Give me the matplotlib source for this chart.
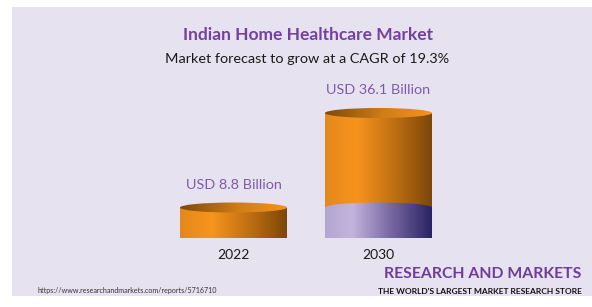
import numpy as np
import matplotlib.pyplot as plt
from matplotlib.colors import LinearSegmentedColormap
from matplotlib.patches import Ellipse, PathPatch, Rectangle
from matplotlib.path import Path

plt.rcParams['font.family'] = ['Lato', 'DejaVu Sans']

years = ["2022", "2030"]
values = [8.8, 36.1]  # USD billion
value_labels = ["USD 8.8 Billion", "USD 36.1 Billion"]
band_values = [0, 8.8]  # purple base band inside the 2030 cylinder

title = "Indian Home Healthcare Market"
subtitle = "Market forecast to grow at a CAGR of 19.3%"
url = "https://www.researchandmarkets.com/reports/5716710"
brand = "RESEARCH AND MARKETS"
tagline = "THE WORLD'S LARGEST MARKET RESEARCH STORE"

BG = "#E6E2F0"
PURPLE = "#7540A0"
LABEL_PURPLE = "#7E5BAA"

body_orange = LinearSegmentedColormap.from_list(
    "body_orange", [(0, "#E5881C"), (0.3, "#F7941D"), (0.65, "#BE6E12"), (1, "#7A4607")])
cap_orange = LinearSegmentedColormap.from_list(
    "cap_orange", [(0, "#7E4A0A"), (0.55, "#D07E18"), (1, "#F7941D")])
body_purple = LinearSegmentedColormap.from_list(
    "body_purple", [(0, "#B4A6D2"), (0.25, "#C3B4DD"), (0.6, "#7A6AA4"), (1, "#262262")])


def gradient_fill(ax, patch, cmap, extent, z):
    patch.set_facecolor("none")
    patch.set_edgecolor("none")
    ax.add_patch(patch)
    grad = np.linspace(0, 1, 256).reshape(1, -1)
    im = ax.imshow(grad, cmap=cmap, extent=extent, aspect="auto",
                   origin="lower", zorder=z, interpolation="bilinear")
    im.set_clip_path(patch)


def cylinder(ax, x, bottom, top, width, ry, body_cmap, cap_cmap, z):
    x0, x1 = x - width / 2, x + width / 2
    t = np.linspace(np.pi, 2 * np.pi, 60)
    verts = [(x0, top), (x0, bottom)]
    verts += list(zip(x + width / 2 * np.cos(t), bottom + ry * np.sin(t)))
    verts += [(x1, top), (x0, top)]
    body = PathPatch(Path(verts), transform=ax.transData)
    gradient_fill(ax, body, body_cmap, (x0, x1, bottom - ry, top), z)
    cap = Ellipse((x, top), width, 2 * ry, transform=ax.transData)
    gradient_fill(ax, cap, cap_cmap, (x0, x1, top - ry, top + ry), z + 0.5)


fig = plt.figure(figsize=(5.92, 3.07), dpi=100)
fig.add_artist(Rectangle((12 / 592, 11 / 307), 580 / 592, 289 / 307,
                         transform=fig.transFigure, facecolor=BG,
                         edgecolor="none", zorder=0))

ax = fig.add_axes([161 / 592, 69 / 307, 290 / 592, 138.5 / 307])
ax.axis("off")

width = 0.738
ry = 1.45
for i, (yr, v, lab, band) in enumerate(zip(years, values, value_labels, band_values)):
    cylinder(ax, i, 0, v, width, ry, body_orange, cap_orange, 2)
    if band > 0:
        # purple base band, its top face shares the body gradient
        cylinder(ax, i, 0, band, width, ry, body_purple, body_purple, 4)
    ax.annotate(lab, (i, v), xytext=(0, 23), textcoords="offset pixels",
                ha="center", va="center", color=LABEL_PURPLE, fontsize=10.4)
    ax.annotate(yr, (i, 0), xytext=(0, -17), textcoords="offset pixels",
                ha="center", va="center", color="#1A1A1A", fontsize=10)

ax.set_xlim(-0.5, 1.5)
ax.set_ylim(0, 40)

fig.text(308 / 592, 1 - 35 / 307, title, ha="center", va="center",
         color=PURPLE, fontsize=12.5, fontweight="bold")
fig.text(307 / 592, 1 - 59 / 307, subtitle, ha="center", va="center",
         color="#1A1A1A", fontsize=10.4)
fig.text(581 / 592, 1 - 274 / 307, brand, ha="right", va="center",
         color="#6E3D9B", fontsize=11.3, fontweight="bold")
fig.text(582 / 592, 1 - 291 / 307, tagline, ha="right", va="center",
         color="#111111", fontsize=6, fontweight="bold")
fig.text(38 / 592, 1 - 291 / 307, url, ha="left", va="center",
         color="#333333", fontsize=5.15)

fig.savefig("out.png", dpi=100)
